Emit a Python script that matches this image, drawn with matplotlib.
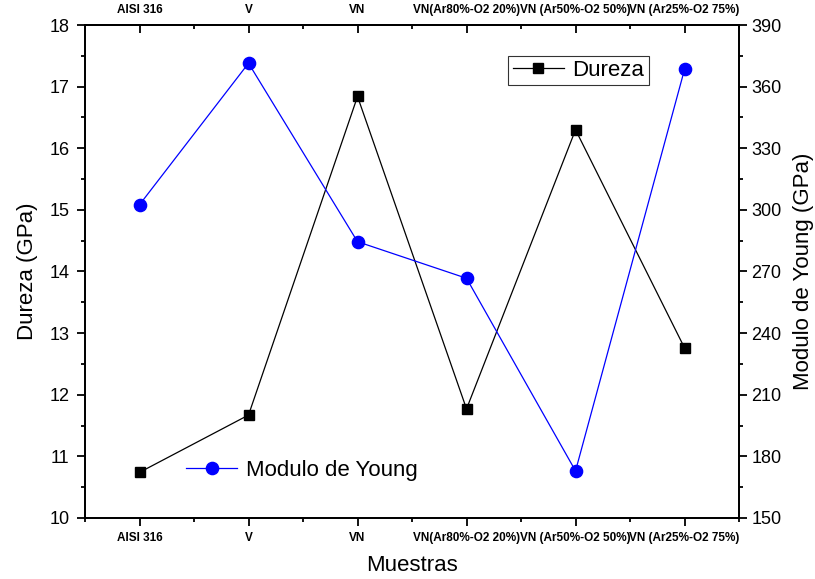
import numpy as np
import matplotlib
matplotlib.use('Agg')
import matplotlib.pyplot as plt
from matplotlib.ticker import MultipleLocator

plt.rcParams['font.family'] = ['Liberation Sans', 'DejaVu Sans']

# sample names (shown on bottom and top axes)
muestras = ['AISI 316', 'V', 'VN', 'VN(Ar80%-O2 20%)', 'VN (Ar50%-O2 50%)', 'VN (Ar25%-O2 75%)']
# hardness, GPa (left axis)
dureza = [10.74, 11.67, 16.84, 11.77, 16.30, 12.76]
# Young's modulus, GPa (right axis)
modulo = [302.5, 371.4, 284.5, 266.7, 172.9, 368.4]

x = np.arange(1, len(muestras) + 1)

fig = plt.figure(figsize=(8.15, 5.79), dpi=100)
ax = fig.add_axes([0.1043, 0.1054, 0.8025, 0.8514])
ax2 = ax.twinx()

l1, = ax.plot(x, dureza, color='black', lw=0.9, marker='s', ms=7.2,
              mfc='black', mec='black', label='Dureza')
l2, = ax2.plot(x, modulo, color='#0000ff', lw=0.9, marker='o', ms=8.8,
               mfc='#0000ff', mec='#0000ff', label='Modulo de Young')

ax.set_xlim(0.5, 6.5)
ax.set_ylim(10, 18)
ax2.set_ylim(150, 390)

# bottom axis: outward ticks
ax.set_xticks(x)
ax.set_xticklabels(muestras, fontsize=8.5, fontweight='bold')
ax.xaxis.set_minor_locator(MultipleLocator(0.5))
ax.tick_params(axis='x', which='both', top=False, direction='out')
ax.tick_params(axis='x', which='major', length=6, width=1.3, pad=4)
ax.tick_params(axis='x', which='minor', length=3, width=1.3)

# top axis: same labels, inward ticks
secx = ax.secondary_xaxis('top')
secx.set_xticks(x)
secx.set_xticklabels(muestras, fontsize=8.5, fontweight='bold')
secx.xaxis.set_minor_locator(MultipleLocator(0.5))
secx.tick_params(axis='x', which='both', direction='in', width=1.3)
secx.tick_params(axis='x', which='major', length=6, pad=6.5)
secx.tick_params(axis='x', which='minor', length=3)
secx.spines['top'].set_linewidth(1.3)

ax.yaxis.set_major_locator(MultipleLocator(1))
ax.yaxis.set_minor_locator(MultipleLocator(0.5))
ax.tick_params(axis='y', which='major', length=6, width=1.3, labelsize=13, pad=5, direction='out')
ax.tick_params(axis='y', which='minor', length=3, width=1.3, direction='out')

ax2.yaxis.set_major_locator(MultipleLocator(30))
ax2.yaxis.set_minor_locator(MultipleLocator(15))
ax2.tick_params(axis='y', which='major', length=6, width=1.3, labelsize=13, pad=3, direction='out')
ax2.tick_params(axis='y', which='minor', length=3, width=1.3, direction='out')

for a in (ax, ax2):
    for s in a.spines.values():
        s.set_linewidth(1.3)

ax.set_xlabel('Muestras', fontsize=16, labelpad=8)
ax.set_ylabel('Dureza (GPa)', fontsize=16, labelpad=8)
ax2.set_ylabel('Modulo de Young (GPa)', fontsize=16, labelpad=8)

leg1 = ax.legend(handles=[l1], loc='upper left', bbox_to_anchor=(0.647, 0.938),
                 borderaxespad=0, fontsize=16, frameon=True, fancybox=False,
                 handlelength=2.3, handletextpad=0.4, borderpad=0.2)
leg1.get_frame().set_edgecolor('black')
leg1.get_frame().set_linewidth(0.8)
ax2.legend(handles=[l2], loc='center left', bbox_to_anchor=(0.155, 0.097),
           borderaxespad=0, fontsize=16, frameon=False,
           handlelength=2.3, handletextpad=0.4, borderpad=0)

fig.savefig('out.png', dpi=100)
